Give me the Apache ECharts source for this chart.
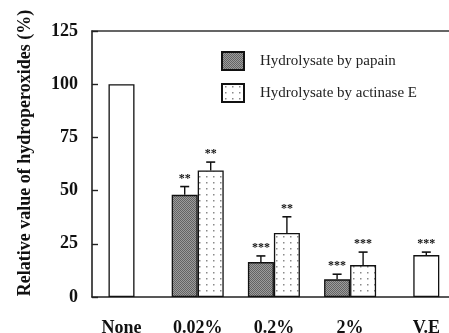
<!DOCTYPE html>
<html>
<head>
<meta charset="utf-8">
<script src="https://cdn.jsdelivr.net/npm/echarts@6/dist/echarts.min.js"></script>
<style>
  html, body { margin: 0; padding: 0; background: #fff; }
  #chart { width: 449px; height: 333px; }
</style>
</head>
<body>
<div id="chart"></div>
<script>
// Treatment groups along the x axis
const categories = ['None', '0.02%', '0.2%', '2%', 'V.E'];
const yTicks = [0, 25, 50, 75, 100, 125];

// Single (open) bars: untreated control and vitamin E
const controlValues = [100, null, null, null, 19.7];
const controlErrors = [0, null, null, null, 1.4];
const controlMarks = ['', '', '', '', '***'];

// Hydrolysate by papain
const papainValues = [null, 48, 16.4, 8.3, null];
const papainErrors = [null, 3.9, 2.9, 2.4, null];
const papainMarks = ['', '**', '***', '***', ''];

// Hydrolysate by actinase E
const actinaseValues = [null, 59.5, 30.1, 15, null];
const actinaseErrors = [null, 3.9, 7.6, 6.1, null];
const actinaseMarks = ['', '**', '**', '***', ''];

const SERIF = '"Liberation Serif", "Times New Roman", serif';
const BAR_W = 26;

// Fine grey stipple for the papain bars
function papainPattern() {
  const c = document.createElement('canvas');
  c.width = 2; c.height = 2;
  const g = c.getContext('2d');
  g.fillStyle = '#9c9c9c'; g.fillRect(0, 0, 2, 2);
  g.fillStyle = '#636363'; g.fillRect(0, 0, 1, 1); g.fillRect(1, 1, 1, 1);
  return { image: c, repeat: 'repeat' };
}
// Sparse dots on white for the actinase E bars
function actinasePattern() {
  const c = document.createElement('canvas');
  c.width = 7; c.height = 6;
  const g = c.getContext('2d');
  g.fillStyle = '#ffffff'; g.fillRect(0, 0, 7, 6);
  g.fillStyle = '#8a8a8a'; g.fillRect(3, 2, 1.5, 1.5);
  return { image: c, repeat: 'repeat' };
}

// Error bar (upper half) with significance stars, offset from the category centre
function errorSeries(values, errors, marks, xAxisIndex, offset) {
  const data = [];
  values.forEach((v, i) => {
    if (v !== null && errors[i] !== null) data.push([i, v, errors[i], marks[i]]);
  });
  return {
    type: 'custom',
    xAxisIndex: xAxisIndex,
    yAxisIndex: 0,
    z: 5,
    silent: true,
    data: data,
    renderItem: function (params, api) {
      const i = api.value(0), v = api.value(1), e = api.value(2);
      const mark = data[params.dataIndex][3];
      const top = api.coord([i, v]);
      const hi = api.coord([i, v + e]);
      const x = top[0] + offset;
      const children = [];
      if (e > 0) {
        children.push({ type: 'line', shape: { x1: x, y1: top[1], x2: x, y2: hi[1] },
          style: { stroke: '#111', lineWidth: 1.4 } });
        children.push({ type: 'line', shape: { x1: x - 4.5, y1: hi[1], x2: x + 4.5, y2: hi[1] },
          style: { stroke: '#111', lineWidth: 1.6 } });
      }
      if (mark) {
        children.push({ type: 'text', x: x, y: hi[1] - 2,
          style: { text: mark, fill: '#111', fontFamily: SERIF, fontWeight: 'bold', fontSize: 12,
            align: 'center', verticalAlign: 'bottom' } });
      }
      return { type: 'group', children: children };
    }
  };
}

const barBorder = { borderColor: '#111', borderWidth: 1.3 };

const option = {
  animation: false,
  backgroundColor: '#ffffff',
  grid: [
    // bars and category labels
    { left: 83.4, right: -15.4, top: 31, bottom: 36, outerBoundsMode: 'none', containLabel: false },
    // frame: left value axis, bottom line, top line
    { left: 92, right: 0, top: 31, bottom: 36, outerBoundsMode: 'none', containLabel: false }
  ],
  legend: {
    orient: 'vertical',
    left: 221, top: 51,
    padding: 0,
    itemWidth: 22, itemHeight: 18, itemGap: 12,
    icon: 'rect',
    data: ['Hydrolysate by papain', 'Hydrolysate by actinase E'],
    textStyle: { fontFamily: SERIF, fontSize: 15, color: '#222', padding: [0, 0, 0, 11] }
  },
  xAxis: [
    { type: 'category', gridIndex: 0, data: categories,
      axisLine: { show: false }, axisTick: { show: false },
      axisLabel: { fontFamily: SERIF, fontWeight: 'bold', fontSize: 18, color: '#111', margin: 22 } },
    { type: 'category', gridIndex: 0, data: categories, show: false },
    { type: 'category', gridIndex: 1, data: [''], position: 'bottom',
      axisLine: { lineStyle: { color: '#222', width: 1.6 } },
      axisTick: { show: false }, axisLabel: { show: false } },
    { type: 'category', gridIndex: 1, data: [''], position: 'top',
      axisLine: { lineStyle: { color: '#333', width: 1.6 } },
      axisTick: { show: false }, axisLabel: { show: false } }
  ],
  yAxis: [
    { type: 'value', gridIndex: 0, min: yTicks[0], max: yTicks[yTicks.length - 1], show: false },
    { type: 'value', gridIndex: 1, min: yTicks[0], max: yTicks[yTicks.length - 1], interval: 25,
      axisLine: { show: true, lineStyle: { color: '#222', width: 1.6 } },
      axisTick: { show: true, inside: true, length: 6, lineStyle: { color: '#222', width: 1.4 } },
      splitLine: { show: false },
      axisLabel: { fontFamily: SERIF, fontWeight: 'bold', fontSize: 18, color: '#111', margin: 14 } }
  ],
  graphic: [
    { type: 'text', x: 25, y: 153, rotation: Math.PI / 2,
      style: { text: 'Relative value of hydroperoxides (%)', fontFamily: SERIF, fontWeight: 'bold',
        fontSize: 18, fill: '#111', align: 'center', verticalAlign: 'middle' } }
  ],
  series: [
    { name: 'Control', type: 'bar', xAxisIndex: 1, yAxisIndex: 0, barWidth: BAR_W,
      data: controlValues, itemStyle: Object.assign({ color: '#ffffff' }, barBorder) },
    { name: 'Hydrolysate by papain', type: 'bar', xAxisIndex: 0, yAxisIndex: 0,
      barWidth: BAR_W, barGap: '0%',
      data: papainValues, itemStyle: Object.assign({ color: papainPattern() }, barBorder) },
    { name: 'Hydrolysate by actinase E', type: 'bar', xAxisIndex: 0, yAxisIndex: 0,
      barWidth: BAR_W, barGap: '0%',
      data: actinaseValues, itemStyle: Object.assign({ color: actinasePattern() }, barBorder) },
    errorSeries(controlValues, controlErrors, controlMarks, 1, 0),
    errorSeries(papainValues, papainErrors, papainMarks, 0, -BAR_W / 2),
    errorSeries(actinaseValues, actinaseErrors, actinaseMarks, 0, BAR_W / 2)
  ]
};

const chart = echarts.init(document.getElementById('chart'), null, { renderer: 'canvas' });
chart.setOption(option);
</script>
</body>
</html>
